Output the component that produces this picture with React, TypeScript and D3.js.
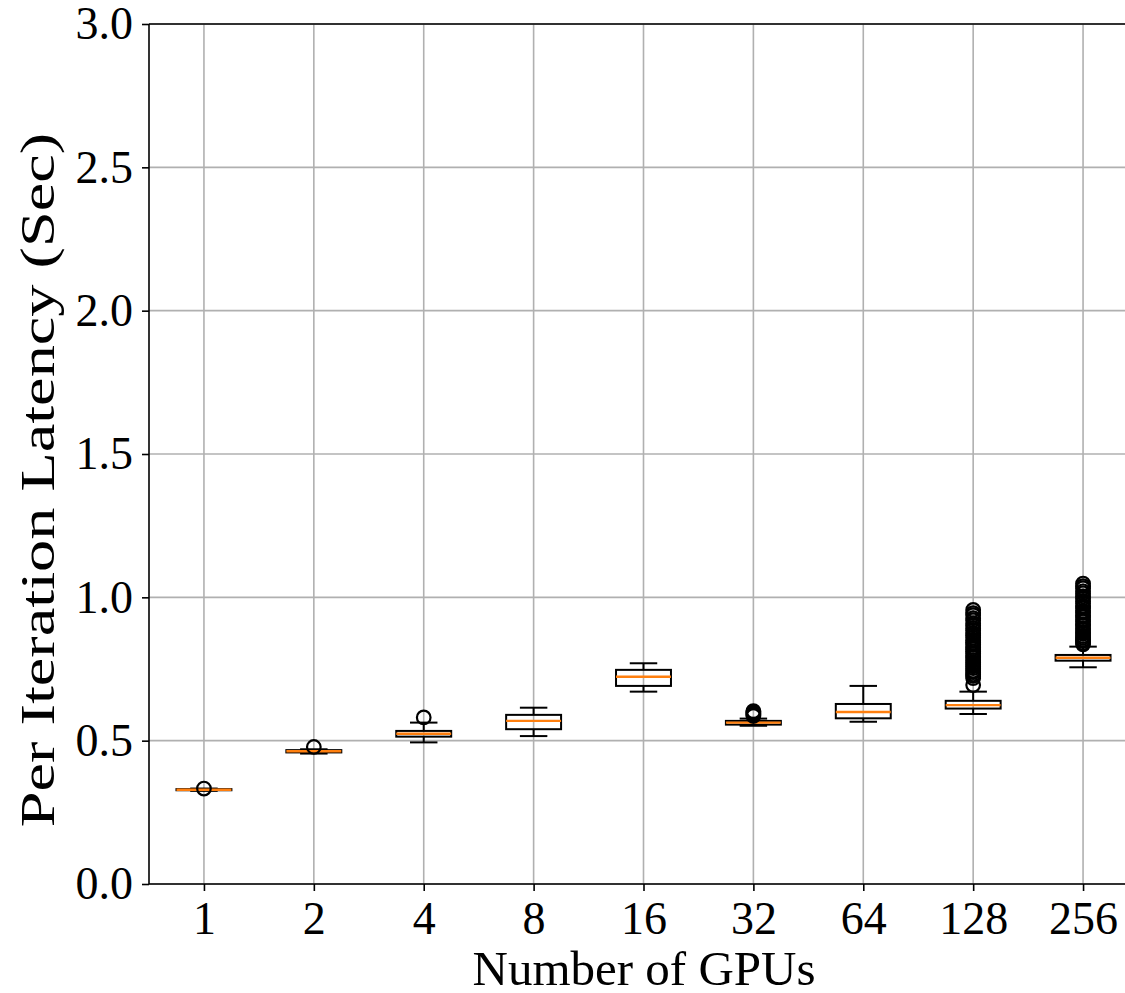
import React, { useEffect, useRef } from 'react';
import * as d3 from 'd3';

const gpuLabels = ['1', '2', '4', '8', '16', '32', '64', '128', '256'];

// five-number summaries: [lowWhisker, q1, median, q3, highWhisker]
const boxStats = [
  [0.325, 0.327, 0.329, 0.331, 0.333],
  [0.455, 0.459, 0.463, 0.467, 0.470],
  [0.494, 0.514, 0.524, 0.534, 0.563],
  [0.516, 0.540, 0.569, 0.590, 0.615],
  [0.671, 0.691, 0.723, 0.747, 0.770],
  [0.552, 0.556, 0.563, 0.569, 0.577],
  [0.566, 0.578, 0.600, 0.628, 0.691],
  [0.593, 0.612, 0.624, 0.639, 0.671],
  [0.756, 0.779, 0.789, 0.799, 0.828],
];

const fliers = [
  [0.333],
  [0.478],
  [0.581],
  [],
  [],
  [0.586, 0.59, 0.594, 0.598, 0.603],
  [],
  [0.694, 0.718, 0.726, 0.731, 0.739, 0.744, 0.753, 0.759, 0.767, 0.772, 0.781, 0.789, 0.795, 0.804, 0.811, 0.82,
    0.826, 0.835, 0.842, 0.85, 0.859, 0.868, 0.875, 0.885, 0.892, 0.902, 0.909, 0.92, 0.927, 0.938, 0.945, 0.956],
  [0.836, 0.841, 0.848, 0.852, 0.859, 0.865, 0.873, 0.878, 0.886, 0.892, 0.901, 0.906, 0.916, 0.921, 0.931, 0.937,
    0.946, 0.952, 0.963, 0.969, 0.979, 0.986, 0.996, 1.003, 1.014, 1.021, 1.032, 1.039, 1.048],
];

const yTicks = [0, 0.5, 1.0, 1.5, 2.0, 2.5, 3.0];

const W = 1125;
const H = 993;
const left = 149;
const right = 1138;
const top = 24;
const bottom = 884;
const font = '"Liberation Serif", "Times New Roman", serif';

const App = () => {
  const svgRef = useRef(null);

  useEffect(() => {
    const svg = d3.select(svgRef.current);
    svg.selectAll('*').remove();

    const x = d3.scaleLinear().domain([0.5, 9.5]).range([left, right]);
    const y = d3.scaleLinear().domain([0, 3]).range([bottom, top]);
    const boxW = x(1.25) - x(0.75);
    const capW = boxW / 2;

    // grid
    const grid = svg.append('g').attr('stroke', '#b0b0b0').attr('stroke-width', 1.6);
    grid.selectAll('line.gx')
      .data(gpuLabels)
      .join('line')
      .attr('class', 'gx')
      .attr('x1', (d, i) => x(i + 1))
      .attr('x2', (d, i) => x(i + 1))
      .attr('y1', top)
      .attr('y2', bottom);
    grid.selectAll('line.gy')
      .data(yTicks)
      .join('line')
      .attr('class', 'gy')
      .attr('x1', left)
      .attr('x2', right)
      .attr('y1', (d) => y(d))
      .attr('y2', (d) => y(d));

    // boxes
    const boxes = svg.append('g')
      .selectAll('g')
      .data(boxStats)
      .join('g')
      .attr('transform', (d, i) => `translate(${x(i + 1)},0)`);

    boxes.append('line')
      .attr('y1', (d) => y(d[0]))
      .attr('y2', (d) => y(d[1]))
      .attr('stroke', '#000')
      .attr('stroke-width', 2);
    boxes.append('line')
      .attr('y1', (d) => y(d[3]))
      .attr('y2', (d) => y(d[4]))
      .attr('stroke', '#000')
      .attr('stroke-width', 2);
    boxes.selectAll('line.cap')
      .data((d) => [d[0], d[4]])
      .join('line')
      .attr('class', 'cap')
      .attr('x1', -capW / 2)
      .attr('x2', capW / 2)
      .attr('y1', (v) => y(v))
      .attr('y2', (v) => y(v))
      .attr('stroke', '#000')
      .attr('stroke-width', 2);
    boxes.append('rect')
      .attr('x', -boxW / 2)
      .attr('width', boxW)
      .attr('y', (d) => y(d[3]))
      .attr('height', (d) => y(d[1]) - y(d[3]))
      .attr('fill', 'none')
      .attr('stroke', '#000')
      .attr('stroke-width', 2);
    boxes.append('line')
      .attr('x1', -boxW / 2)
      .attr('x2', boxW / 2)
      .attr('y1', (d) => y(d[2]))
      .attr('y2', (d) => y(d[2]))
      .attr('stroke', '#ff7f0e')
      .attr('stroke-width', 2.4);

    // fliers
    const fl = svg.append('g');
    fliers.forEach((vals, i) => {
      fl.selectAll(`circle.f${i}`)
        .data(vals)
        .join('circle')
        .attr('class', `f${i}`)
        .attr('cx', x(i + 1))
        .attr('cy', (v) => y(v))
        .attr('r', 6.8)
        .attr('fill', 'none')
        .attr('stroke', '#000')
        .attr('stroke-width', 2.2);
    });

    // spines (right one falls outside the picture)
    const sp = svg.append('g').attr('stroke', '#000').attr('stroke-width', 1.6);
    sp.append('line').attr('x1', left).attr('x2', left).attr('y1', top).attr('y2', bottom);
    sp.append('line').attr('x1', left).attr('x2', right).attr('y1', bottom).attr('y2', bottom);
    sp.append('line').attr('x1', left).attr('x2', right).attr('y1', top).attr('y2', top);

    // y axis
    const yAxis = svg.append('g').attr('transform', `translate(${left},0)`)
      .call(d3.axisLeft(y).tickValues(yTicks).tickFormat(d3.format('.1f')).tickSize(7).tickPadding(9));
    yAxis.select('.domain').remove();
    yAxis.selectAll('line').attr('stroke-width', 1.6);
    yAxis.selectAll('text').attr('font-size', 46).attr('font-family', font).attr('fill', '#000');

    // x axis
    const xAxis = svg.append('g').attr('transform', `translate(0,${bottom})`)
      .call(d3.axisBottom(x).tickValues(d3.range(1, 10)).tickFormat((d) => gpuLabels[d - 1]).tickSize(7).tickPadding(10));
    xAxis.select('.domain').remove();
    xAxis.selectAll('line').attr('stroke-width', 1.6);
    xAxis.selectAll('text').attr('font-size', 46).attr('font-family', font).attr('fill', '#000');

    svg.append('text')
      .attr('x', 644)
      .attr('y', 985)
      .attr('text-anchor', 'middle')
      .attr('font-family', font)
      .attr('font-size', 49)
      .text('Number of GPUs');

    // the y label in the picture is drawn tall and narrow
    svg.append('text')
      .attr('transform', `translate(54,480) rotate(-90) scale(1.34,1)`)
      .attr('text-anchor', 'middle')
      .attr('font-family', font)
      .attr('font-size', 48)
      .text('Per Iteration Latency (Sec)');
  }, []);

  return (
    <svg
      ref={svgRef}
      width={W}
      height={H}
      style={{ position: 'absolute', left: 0, top: 0, background: '#fff' }}
    />
  );
};

export default App;
